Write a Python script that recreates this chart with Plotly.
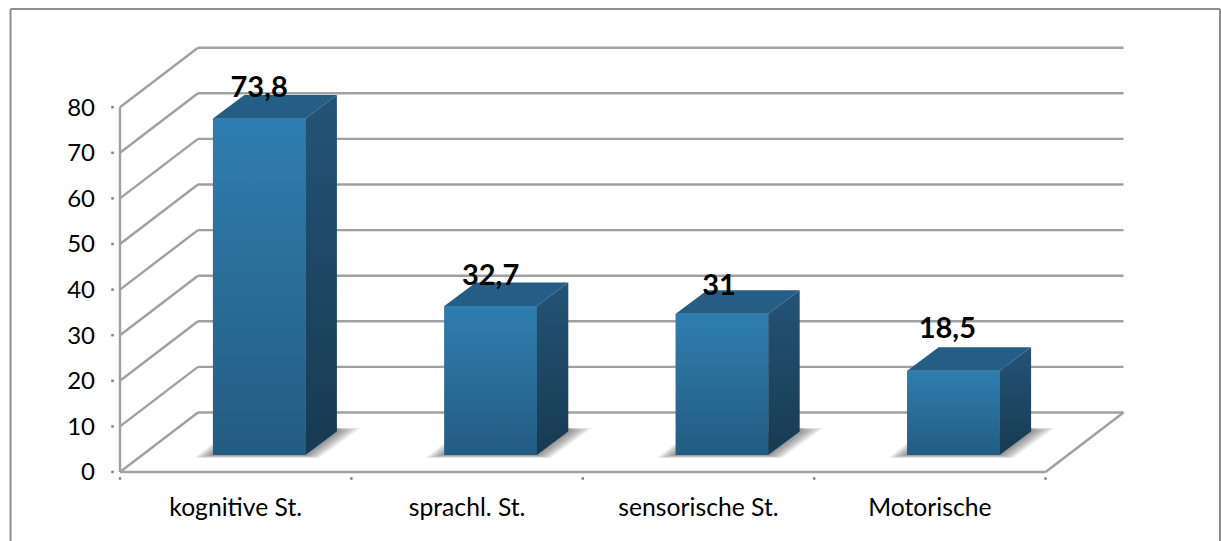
import plotly.graph_objects as go

# ---- data ----
categories = ["kognitive St.", "sprachl. St.", "sensorische St.", "Motorische"]
values = [73.8, 32.7, 31, 18.5]
value_labels = ["73,8", "32,7", "31", "18,5"]
label_lift_px = [29, 28, 26, 40]
label_shift_px = [0, 0, -3, -6]
y_ticks = [0, 10, 20, 30, 40, 50, 60, 70, 80]

# ---- projection constants (pixels per axis unit) ----
PX_X = 231.5
PX_Y = 4.56
WIDTH, HEIGHT = 1221, 541
AXIS_LEFT, AXIS_BOTTOM = 119.5, 472
PAD = 12                     # plot area extends past the axes so their lines are not clipped
ML, MB, MT = AXIS_LEFT - PAD, HEIGHT - AXIS_BOTTOM - PAD, 9
def ux(px): return px / PX_X
def uy(px): return px / PX_Y

WALL_DX, WALL_DY = ux(78), uy(59.5)
BAR_DX, BAR_DY = ux(31.5), uy(23.5)
BAR_W = ux(92.5)
BAR_OFFSET = ux(23.5)
BAR_BASE = uy(17)
X0 = -0.5
XN = 3.5
xpos = [i + BAR_OFFSET for i in range(len(values))]

GRID = "#a0a0a0"
shapes = []
def line(x0, y0, x1, y1):
    shapes.append(dict(type="line", xref="x", yref="y", x0=x0, y0=y0, x1=x1, y1=y1,
                       layer="below", line=dict(color=GRID, width=2.4)))
for v in y_ticks:
    line(X0, v, X0 + WALL_DX, v + WALL_DY)
    line(X0 + WALL_DX, v + WALL_DY, XN + WALL_DX, v + WALL_DY)
line(X0, 0, X0, y_ticks[-1])
line(X0, 0, XN, 0)
line(XN, 0, XN + WALL_DX, WALL_DY)

# soft floor shadows, built from stacked translucent polygons
LAYERS = 12
for cx in xpos:
    left = cx - BAR_W / 2
    right = cx + BAR_W / 2
    for k in range(LAYERS, 0, -1):
        s = k / LAYERS
        pts = [(left - ux(19 * s), BAR_BASE - uy(3 * s)),
               (right + ux(14 * s), BAR_BASE - uy(3 * s)),
               (right + BAR_DX + ux(24 * s), BAR_BASE + BAR_DY + uy(3.5 * s)),
               (right + BAR_DX, BAR_BASE + uy(27)),
               (left, BAR_BASE + uy(12 * s))]
        path = "M " + " L ".join(f"{x},{y}" for x, y in pts) + " Z"
        shapes.append(dict(type="path", xref="x", yref="y", path=path, layer="below",
                           fillcolor="rgba(50,50,50,0.055)", line=dict(width=0)))

# chart frame: left, top and right only (paper fractions of the plot area)
FRAME = "#8e8e8e"
plot_w = WIDTH - ML
plot_h = HEIGHT - MT - MB
fx0, fx1 = (10 - ML) / plot_w, (1220 - ML) / plot_w
fy0 = -MB / plot_h
frame_line = dict(color=FRAME, width=2)
shapes += [
    dict(type="line", xref="paper", yref="paper", x0=fx0, x1=fx0, y0=fy0, y1=1, line=frame_line),
    dict(type="line", xref="paper", yref="paper", x0=fx1, x1=fx1, y0=fy0, y1=1, line=frame_line),
    dict(type="line", xref="paper", yref="paper", x0=fx0, x1=fx1, y0=1, y1=1, line=frame_line),
]

fig = go.Figure()

# front faces
fig.add_trace(go.Bar(x=xpos, y=values, base=BAR_BASE, width=BAR_W, marker=dict(color="#2a6f9c", line=dict(width=0)),
                     hoverinfo="skip", showlegend=False))

def poly(xs, ys, **kw):
    fig.add_trace(go.Scatter(x=xs, y=ys, mode="lines", fill="toself", line=dict(width=0),
                             hoverinfo="skip", showlegend=False, **kw))

for cx, v in zip(xpos, values):
    l, r = cx - BAR_W / 2, cx + BAR_W / 2
    t = BAR_BASE + v
    poly([l, r, r, l, l], [BAR_BASE, BAR_BASE, t, t, BAR_BASE],
         fillgradient=dict(type="vertical", colorscale=[[0, "#235c81"], [1, "#2f7eb0"]]))
    poly([r, r + BAR_DX, r + BAR_DX, r, r],
         [BAR_BASE, BAR_BASE + BAR_DY, t + BAR_DY, t, BAR_BASE],
         fillgradient=dict(type="vertical", colorscale=[[0, "#183a52"], [1, "#235476"]]))
    poly([l, r, r + BAR_DX, l + BAR_DX, l], [t, t, t + BAR_DY, t + BAR_DY, t], fillcolor="#255e85")

# value labels
fig.add_trace(go.Scatter(
    x=[x + ux(s) for x, s in zip(xpos, label_shift_px)],
    y=[BAR_BASE + v + uy(h) for v, h in zip(values, label_lift_px)],
    mode="text", text=value_labels, textposition="middle center",
    textfont=dict(family="Lato", size=29, color="#000000", weight="bold"),
    cliponaxis=False, hoverinfo="skip", showlegend=False))

# detached tick dots
fig.add_trace(go.Scatter(x=[X0 - ux(7.5)] * len(y_ticks), y=y_ticks, mode="markers",
                         marker=dict(symbol="square", size=2.5, color="#808080"),
                         cliponaxis=False, hoverinfo="skip", showlegend=False))
fig.add_trace(go.Scatter(x=[X0 + i for i in range(len(categories) + 1)], y=[-uy(6.5)] * (len(categories) + 1),
                         mode="markers", marker=dict(symbol="square", size=2.5, color="#808080"),
                         cliponaxis=False, hoverinfo="skip", showlegend=False))

fig.update_layout(
    width=WIDTH, height=HEIGHT, autosize=False,
    margin=dict(l=ML, r=0, t=MT, b=MB, pad=0),
    paper_bgcolor="#ffffff", plot_bgcolor="#ffffff",
    shapes=shapes, showlegend=False, barmode="overlay",
    xaxis=dict(range=[X0 - ux(PAD), X0 - ux(PAD) + (WIDTH - ML) / PX_X], tickvals=list(range(len(categories))),
               ticktext=categories, showgrid=False, zeroline=False, showline=False, ticks="",
               ticklabelstandoff=6, tickfont=dict(family="Lato", size=24.7, color="#000000")),
    yaxis=dict(range=[-uy(PAD), -uy(PAD) + (HEIGHT - MB - MT) / PX_Y], tickvals=y_ticks, showgrid=False,
               zeroline=False, showline=False, ticks="", ticklabelstandoff=12,
               tickfont=dict(family="Lato", size=24, color="#000000")),
)
fig.write_html("out.html", config=dict(displayModeBar=False), post_script="document.body.style.margin='0';")
